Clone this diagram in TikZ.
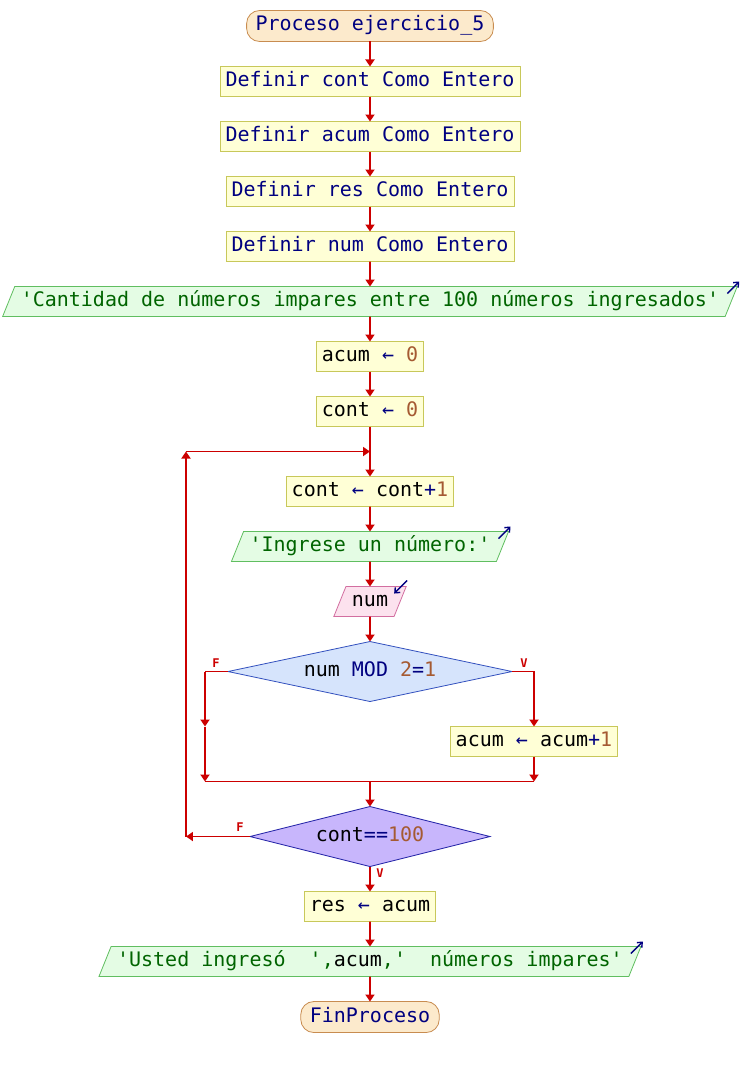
\documentclass[tikz,border=0pt]{standalone}
\usepackage{fontspec}
\setmonofont{DejaVu Sans Mono}
\usetikzlibrary{arrows.meta,positioning,shapes.geometric}

\definecolor{kwblue}{RGB}{0,0,128}
\definecolor{numbrown}{RGB}{165,90,50}
\definecolor{strgreen}{RGB}{0,100,0}
\definecolor{flowred}{RGB}{204,0,0}
\definecolor{procfill}{RGB}{255,255,214}
\definecolor{procdraw}{RGB}{200,200,90}
\definecolor{outfill}{RGB}{228,252,228}
\definecolor{outdraw}{RGB}{96,190,96}
\definecolor{infill}{RGB}{252,226,238}
\definecolor{indraw}{RGB}{210,110,160}
\definecolor{condfill}{RGB}{214,228,252}
\definecolor{conddraw}{RGB}{50,80,190}
\definecolor{loopfill}{RGB}{200,182,252}
\definecolor{loopdraw}{RGB}{40,40,170}
\definecolor{termfill}{RGB}{252,234,204}
\definecolor{termdraw}{RGB}{200,140,80}

\newcommand{\kw}[1]{\textcolor{kwblue}{#1}}
\newcommand{\nm}[1]{\textcolor{numbrown}{#1}}
\newcommand{\asg}{\kw{←}}

\begin{document}
\begin{tikzpicture}[
  base/.style={font=\ttfamily\fontsize{20}{24}\selectfont, text height=15pt, text depth=5pt, inner ysep=5pt, outer sep=0pt, line width=0.8pt},
  term/.style={base, draw=termdraw, fill=termfill, rounded corners=13pt, inner xsep=9pt, inner ysep=5.5pt, text=kwblue},
  proc/.style={base, draw=procdraw, fill=procfill, inner xsep=5.5pt},
  outp/.style={base, trapezium, trapezium left angle=68, trapezium right angle=112, draw=outdraw, fill=outfill, inner xsep=6pt, text=strgreen},
  inp/.style={outp, draw=indraw, fill=infill, text=black},
  cond/.style={base, diamond, aspect=4.7, draw=conddraw, fill=condfill, inner sep=0pt, minimum width=284pt, minimum height=60pt},
  loopcond/.style={cond, aspect=4, draw=loopdraw, fill=loopfill, minimum width=240pt},
  arr/.style={-{Triangle[width=9pt,length=7pt]}, flowred, line width=1.8pt},
  lnk/.style={flowred, line width=1.8pt},
  lbl/.style={text=flowred, font=\ttfamily\bfseries\fontsize{12}{13}\selectfont, inner sep=0pt},
  io/.style={-{Straight Barb[length=4pt,width=7pt]}, kwblue, line width=1.4pt}
]
\useasboundingbox (-370pt,26pt) rectangle (370pt,-1039pt);

\node[term] (a) {Proceso ejercicio\_5};
\node[proc, below=25pt of a, text=kwblue] (b) {Definir cont Como Entero};
\node[proc, below=25pt of b, text=kwblue] (c) {Definir acum Como Entero};
\node[proc, below=25pt of c, text=kwblue] (d) {Definir res Como Entero};
\node[proc, below=25pt of d, text=kwblue] (e) {Definir num Como Entero};
\node[outp, below=25pt of e] (f) {'Cantidad de números impares entre 100 números ingresados'};
\node[proc, below=25pt of f] (g) {acum \asg{} \nm{0}};
\node[proc, below=25pt of g] (h) {cont \asg{} \nm{0}};
\coordinate[below=25pt of h] (j);
\node[proc, below=25pt of j] (i) {cont \asg{} cont\kw{+}\nm{1}};
\node[outp, below=25pt of i] (k) {'Ingrese un número:'};
\node[inp, below=25pt of k] (l) {num};
\node[cond, below=25pt of l] (m) {num \kw{MOD} \nm{2}\kw{=}\nm{1}};

\coordinate (brL) at ([xshift=-23pt]m.west);
\coordinate (brR) at ([xshift=22pt]m.east);
\node[proc] (n) at ([yshift=-70pt]brR) {acum \asg{} acum\kw{+}\nm{1}};
\coordinate (jR) at ([yshift=-25pt]n.south);
\coordinate (jL) at (brL |- jR);
\coordinate (mL) at (brL |- n.north);
\coordinate (jM) at (m |- jR);

\node[loopcond, below=25pt of jM] (o) {cont\kw{==}\nm{100}};
\node[proc, below=25pt of o] (p) {res \asg{} acum};
\node[outp, below=25pt of p] (q) {'Usted ingresó\ \ ',\textcolor{black}{acum},'\ \ números impares'};
\node[term, below=25pt of q] (r) {FinProceso};

\coordinate (s) at ([xshift=-184pt]j);
\coordinate (t) at (s |- o.west);

\node[lbl] (fa) at ([shift={(11pt,8pt)}]brL) {F};
\node[lbl] (va) at ([shift={(-10pt,8pt)}]brR) {V};
\node[lbl] (fb) at ([shift={(-10pt,9pt)}]o.west) {F};
\node[lbl] (vb) at ([shift={(10pt,-7pt)}]o.south) {V};

\draw[arr] (a) -- (b);
\draw[arr] (b) -- (c);
\draw[arr] (c) -- (d);
\draw[arr] (d) -- (e);
\draw[arr] (e) -- (f);
\draw[arr] (f) -- (g);
\draw[arr] (g) -- (h);
\draw[arr] (h) -- (i);
\draw[arr] (i) -- (k);
\draw[arr] (k) -- (l);
\draw[arr] (l) -- (m);
\draw[lnk] (m.west) -- (brL);
\draw[arr] (brL) -- (mL);
\draw[arr] (mL) -- (jL);
\draw[arr] (m.east) -| (n);
\draw[arr] (n) -- (jR);
\draw[lnk] (jL) -- (jR);
\draw[arr] (jM) -- (o);
\draw[arr] (o.west) -- (t);
\draw[arr] (t) -- (s);
\draw[arr] (s) -- (j);
\draw[arr] (o) -- (p);
\draw[arr] (p) -- (q);
\draw[arr] (q) -- (r);

\draw[io] ([shift={(-10pt,-7pt)}]f.top right corner) -- ++(12pt,12pt);
\draw[io] ([shift={(-10pt,-7pt)}]k.top right corner) -- ++(12pt,12pt);
\draw[io] ([shift={(-10pt,-7pt)}]q.top right corner) -- ++(12pt,12pt);
\draw[io] ([shift={(1pt,6pt)}]l.top right corner) -- ++(-13pt,-13pt);
\end{tikzpicture}
\end{document}
